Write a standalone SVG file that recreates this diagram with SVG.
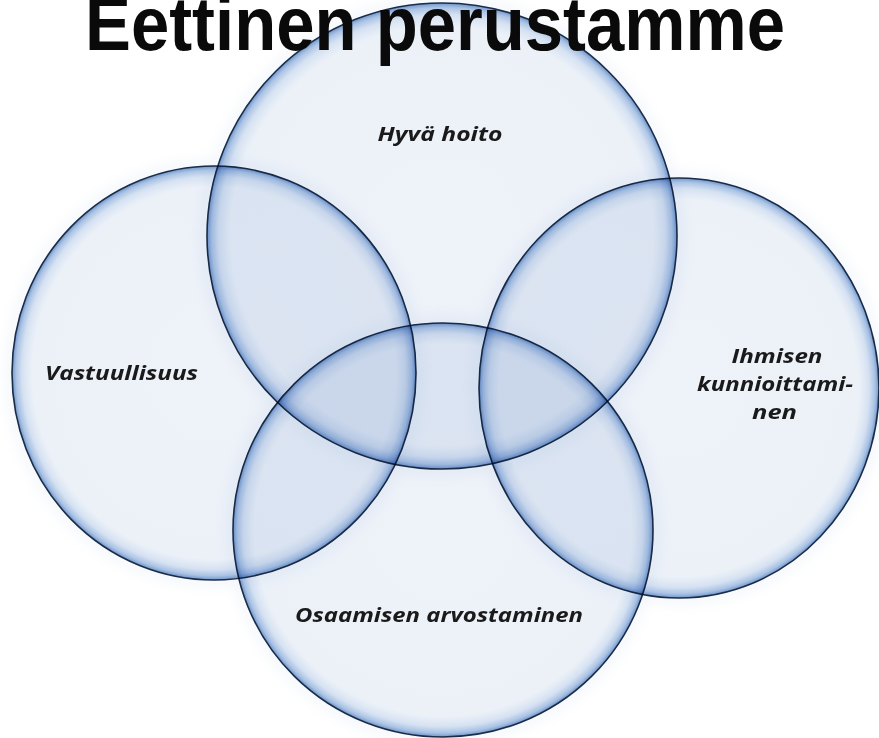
<svg xmlns="http://www.w3.org/2000/svg" width="879" height="738" viewBox="0 0 879 738">
  <style>
    .c { stroke: #1b2d47; stroke-width: 1.6; mix-blend-mode: multiply; fill: url(#glow); }
    .lbl { font-family: "Open Sans", "Noto Sans", sans-serif; font-style: italic; font-weight: bold; font-size: 20px; fill: #1a1a1a; text-anchor: middle; }
    .title { font-family: "Liberation Sans", Arial, sans-serif; font-weight: bold; font-size: 76px; fill: #0a0a0a; text-anchor: middle; }
  </style>
  <defs>
    <radialGradient id="glow" cx="0.5" cy="0.5" r="0.5">
      <stop offset="0" stop-color="#eef2f9"/>
      <stop offset="0.9" stop-color="#ecf1f8"/>
      <stop offset="0.95" stop-color="#d6e2f2"/>
      <stop offset="0.98" stop-color="#aec6e6"/>
      <stop offset="1" stop-color="#7299cf"/>
    </radialGradient>
    <filter id="halo" x="-20%" y="-20%" width="140%" height="140%">
      <feGaussianBlur stdDeviation="6"/>
    </filter>
  </defs>
  <rect x="0" y="0" width="879" height="738" fill="#ffffff"/>
  <g id="halos" opacity="0.2" filter="url(#halo)" fill="none" stroke="#b9cde8" stroke-width="8">
    <ellipse cx="442" cy="236" rx="237" ry="235"/>
    <ellipse cx="214" cy="373" rx="204" ry="209"/>
    <ellipse cx="679" cy="388" rx="202" ry="212"/>
    <ellipse cx="443" cy="530" rx="212" ry="209"/>
  </g>
  <g id="circles">
    <g id="hyva-hoito"><ellipse class="c" cx="442" cy="236" rx="235" ry="233"/></g>
    <g id="vastuullisuus"><ellipse class="c" cx="214" cy="373" rx="202" ry="207"/></g>
    <g id="ihmisen-kunnioittaminen"><ellipse class="c" cx="679" cy="388" rx="200" ry="210"/></g>
    <g id="osaamisen-arvostaminen"><ellipse class="c" cx="443" cy="530" rx="210" ry="207"/></g>
  </g>
  <g id="labels">
    <text class="lbl" x="440" y="141" textLength="125" lengthAdjust="spacingAndGlyphs">Hyvä hoito</text>
    <text class="lbl" x="121.5" y="380" textLength="153" lengthAdjust="spacingAndGlyphs">Vastuullisuus</text>
    <text class="lbl" x="777" y="363" textLength="91" lengthAdjust="spacingAndGlyphs">Ihmisen</text>
    <text class="lbl" x="775" y="391" textLength="156" lengthAdjust="spacingAndGlyphs">kunnioittami-</text>
    <text class="lbl" x="774.5" y="419" textLength="45" lengthAdjust="spacingAndGlyphs">nen</text>
    <text class="lbl" x="439" y="622" textLength="288" lengthAdjust="spacingAndGlyphs">Osaamisen arvostaminen</text>
  </g>
  <g id="title">
    <text class="title" x="435" y="50" textLength="700" lengthAdjust="spacingAndGlyphs">Eettinen perustamme</text>
  </g>
</svg>
